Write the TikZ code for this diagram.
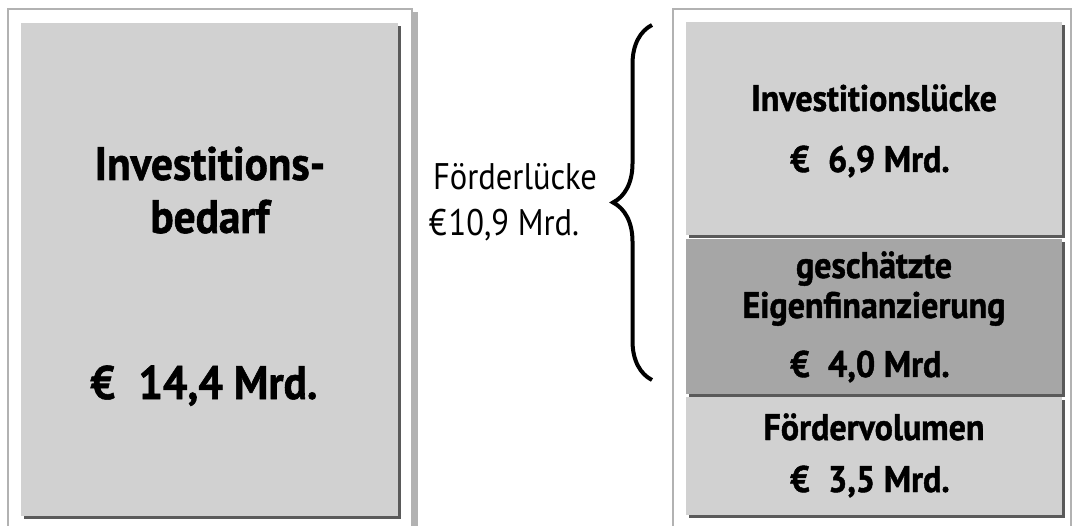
\documentclass[tikz,border=0pt]{standalone}
\usepackage{fontspec}
\setmainfont{PT Sans}
\newfontfamily\schmal{PT Sans}[FakeStretch=0.88]
\newfontfamily\fett{PT Sans}[FakeStretch=0.92,FakeBold=1.2]
\usetikzlibrary{positioning,shadows,decorations.pathreplacing}

\definecolor{hellgrau}{RGB}{209,209,209}
\definecolor{dunkelgrau}{RGB}{166,166,166}
\definecolor{schatten}{RGB}{90,90,90}
\definecolor{rahmen}{RGB}{178,178,178}

\tikzset{
  feld/.style={rectangle, inner sep=0pt, anchor=north west, fill=hellgrau,
    drop shadow={shadow xshift=3pt, shadow yshift=-3pt, fill=schatten, opacity=1}},
  titel/.style={anchor=base, font=\fett\bfseries\fontsize{37}{44}\selectfont},
  gross/.style={anchor=base, font=\fett\bfseries\fontsize{47}{56}\selectfont},
  duenn/.style={anchor=base, font=\schmal\fontsize{37}{44}\selectfont}
}

\begin{document}
\begin{tikzpicture}[x=1pt,y=-1pt]
\useasboundingbox (0,0) rectangle (1073,526);

% Rahmen
\draw [rahmen,line width=1.5pt] (8,526) -- (8,9) -- (412,9) -- (412,526);
\fill [rahmen] (412,12) rectangle (418,526);
\draw [rahmen,line width=1.5pt] (673,526) -- (673,9) -- (1071,9) -- (1071,526);

% Investitionsbedarf
\node [feld,minimum width=377,minimum height=493] (bedarf) at (21,23) {};
\node [gross] (bedarftitel) at (210,180) {Investitions-};
\node [gross] (bedarftitelb) at (210,233) {bedarf};
\node [gross] (bedarfwert) at (204,399) {€\enspace 14,4 Mrd.};

% Finanzierung
\node [feld,minimum width=376,minimum height=213] (luecke) at (686,22) {};
\node [feld,fill=dunkelgrau,minimum width=376,minimum height=155,below=3pt of luecke] (eigen) {};
\node [feld,minimum width=376,minimum height=118,below=3pt of eigen] (foerder) {};

\node [titel] (lueckentitel) at (874,111) {Investitionslücke};
\node [titel] (lueckenwert) at (870,172) {€\enspace 6,9 Mrd.};
\node [titel] (eigentitel) at (874,278) {geschätzte};
\node [titel] (eigentitelb) at (874,318) {Eigenfinanzierung};
\node [titel] (eigenwert) at (870,377) {€\enspace 4,0 Mrd.};
\node [titel] (foerdertitel) at (874,440) {Fördervolumen};
\node [titel] (foerderwert) at (870,492) {€\enspace 3,5 Mrd.};

% Klammer
\node [duenn] (foerderluecke) at (515,190) {Förderlücke};
\node [duenn] (foerdersumme) at (504,236) {€\kern2pt 10,9 Mrd.};
\coordinate (klammeroben) at (652,25);
\coordinate (klammerunten) at (652,380);
\draw [decorate,decoration={brace,amplitude=39pt},line width=4pt] (klammerunten) -- (klammeroben);

\end{tikzpicture}
\end{document}
